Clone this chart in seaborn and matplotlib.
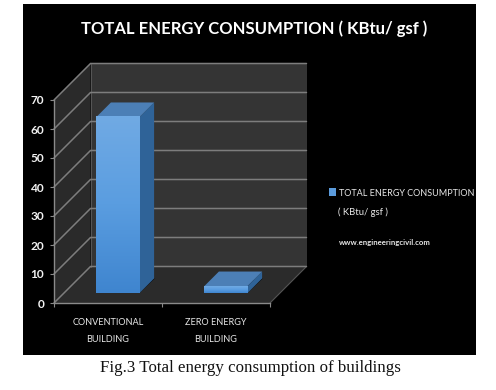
import numpy as np
import pandas as pd
import matplotlib
matplotlib.use("Agg")
import matplotlib.pyplot as plt
import seaborn as sns
from matplotlib.patches import Polygon, Rectangle, Patch
from matplotlib.colors import LinearSegmentedColormap

categories = ["CONVENTIONAL\nBUILDING", "ZERO ENERGY\nBUILDING"]
values = [60.7, 2.4]
y_ticks = [0, 10, 20, 30, 40, 50, 60, 70]
title = "TOTAL ENERGY CONSUMPTION ( KBtu/ gsf )"
legend_lines = ["TOTAL ENERGY CONSUMPTION", "( KBtu/ gsf )"]
site = "www.engineeringcivil.com"
caption = "Fig.3 Total energy consumption of buildings"

W, H = 496, 390
sns.set_theme(style="white")
plt.rcParams["font.family"] = ["Lato", "DejaVu Sans"]
fig = plt.figure(figsize=(W / 100, H / 100), dpi=100, facecolor="white")
fig.add_artist(Rectangle((23 / W, 1 - 355 / H), 453 / W, 351 / H,
                         transform=fig.transFigure, fc="black", ec="none", zorder=-5))

ax = fig.add_axes([54 / W, 1 - 303 / H, 216 / W, 203 / H])
ax.patch.set_visible(False)
df = pd.DataFrame({"cat": categories, "val": values})
sns.barplot(data=df, x="cat", y="val", color="#5b9bdc", saturation=1, width=0.4, ax=ax, zorder=5)
ax.set_xlim(-0.5, 1.5)
ax.set_ylim(0, 70)
ax.set_xlabel("")
ax.set_ylabel("")
ax.set_yticks(y_ticks)

sns.despine(ax=ax)
for s in ("left", "bottom"):
    ax.spines[s].set_color("#8a8a8a")
    ax.spines[s].set_linewidth(1.0)
ax.tick_params(axis="both", left=True, bottom=True, length=3, width=0.8, color="#8a8a8a")
ax.tick_params(axis="y", labelcolor="#f2f2f2", labelsize=8.6, pad=4)
for t in ax.get_yticklabels():
    t.set_fontweight("bold")
ax.set_xticks([-0.5, 0.5, 1.5])
ax.set_xticklabels([])
for x, lab in enumerate(categories):
    ax.annotate(lab, xy=(x, 0), xycoords=ax.get_xaxis_transform(), xytext=(0, -15),
                textcoords="offset pixels", ha="center", va="top",
                color="#e8e8e8", fontsize=6.6, linespacing=2.1, annotation_clip=False)

BACK = 36.5
x0, x1 = ax.get_xlim()
px_x = 108.0
px_y = 2.9


def poly(points, **kw):
    p = Polygon(points, closed=True, transform=ax.transData, clip_on=False, **kw)
    ax.add_patch(p)
    return p


dxb, dyb = BACK / px_x, BACK / px_y
poly([(x0 + dxb, dyb), (x1 + dxb, dyb), (x1 + dxb, 70 + dyb), (x0 + dxb, 70 + dyb)],
     fc="#343434", ec="none", zorder=1)
poly([(x0, 0), (x0 + dxb, dyb), (x0 + dxb, 70 + dyb), (x0, 70)], fc="#2a2a2a", ec="none", zorder=1)
poly([(x0, 0), (x1, 0), (x1 + dxb, dyb), (x0 + dxb, dyb)], fc="#2b2b2b", ec="none", zorder=1)
ax.plot([x1, x1 + dxb], [0, dyb], color="#555555", lw=0.8, clip_on=False, zorder=2)
ax.plot([x0 + dxb, x0 + dxb], [dyb, 70 + dyb], color="#555555", lw=0.8, clip_on=False, zorder=2)
for y in y_ticks:
    ax.plot([x0, x0 + dxb, x1 + dxb], [y, y + dyb, y + dyb], color="#7d7d7d", lw=1.1,
            clip_on=False, zorder=2, solid_joinstyle="miter")

FRONT, DEEP = 10.0, 14.5
cmap = LinearSegmentedColormap.from_list("bar", ["#3f85cf", "#5a9de0", "#70aae4"])
grad = np.linspace(1, 0, 128).reshape(-1, 1)
for bar, v in zip(list(ax.patches)[:2], values):
    l, w = bar.get_x(), bar.get_width()
    sx, sy = FRONT / px_x, FRONT / px_y
    ex, ey = DEEP / px_x, DEEP / px_y
    a, b = l + sx, l + w + sx
    bot, top = sy, v + sy
    bar.set_visible(False)
    poly([(a, bot), (b, bot), (b + 0.14, bot + 5), (b + 0.1, bot + 5)], fc="#000000", ec="none", zorder=3)
    poly([(b, bot), (b + ex, bot + ey), (b + ex, top + ey), (b, top)], fc="#2f6398", ec="none", zorder=4)
    poly([(a, top), (b, top), (b + ex, top + ey), (a + ex, top + ey)], fc="#4c7fb6", ec="none", zorder=4)
    ax.imshow(grad, cmap=cmap, extent=(a, b, bot, top), aspect="auto", origin="upper", zorder=5,
              clip_on=False)
ax.set_xlim(x0, x1)
ax.set_ylim(0, 70)

fig.text(254 / W, 1 - 29 / H, title, color="white", fontsize=12, fontweight="bold",
         ha="center", va="center")
handle = Patch(fc="#5b9bdc", ec="none")
leg = fig.legend([handle], [legend_lines[0]], loc="center left",
                 bbox_to_anchor=(329 / W, 1 - 193 / H), frameon=False, fontsize=6.45,
                 labelcolor="#e8e8e8", handlelength=0.8, handleheight=1.0, handletextpad=0.3,
                 borderpad=0, borderaxespad=0)
fig.text(338 / W, 1 - 212 / H, legend_lines[1], color="#e8e8e8", fontsize=6.8, ha="left", va="center")
fig.text(339 / W, 1 - 242 / H, site, color="#e6e6e6", fontsize=5.6, fontweight="bold", ha="left", va="center")
fig.text(250 / W, 1 - 367.5 / H, caption, color="#111111", fontsize=12.2, family="Liberation Serif",
         ha="center", va="center")
fig.savefig("out.png", dpi=100, facecolor="white")
